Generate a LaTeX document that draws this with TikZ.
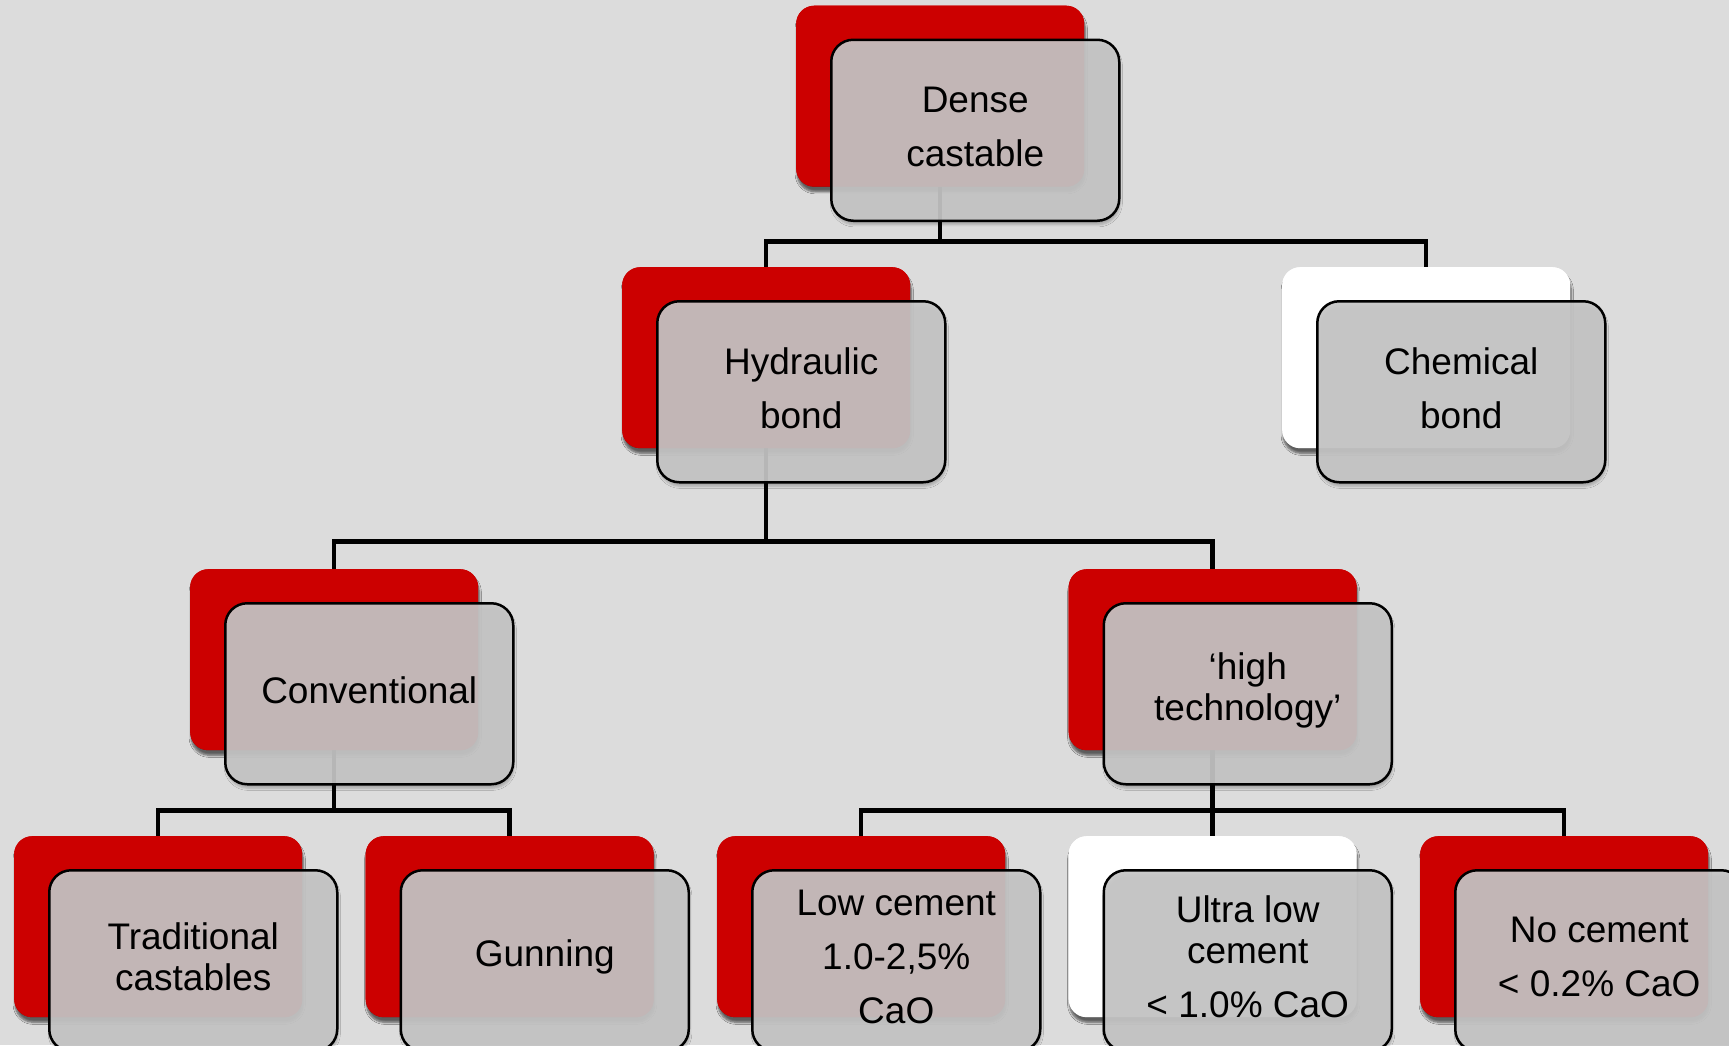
\documentclass[tikz,border=0pt]{standalone}
\usepackage{fontspec}
\setmainfont{Liberation Sans}
\usetikzlibrary{shadows.blur}
\definecolor{bg}{RGB}{220,220,220}
\definecolor{boxred}{RGB}{204,0,0}
\definecolor{glass}{RGB}{198,198,198}
\begin{document}
\begin{tikzpicture}[x=1pt,y=-1pt,
  back/.style={rectangle, rounded corners=18pt, minimum width=288pt, minimum height=181pt,
    anchor=north west, inner sep=0pt,
    blur shadow={shadow xshift=1pt, shadow yshift=-5pt, shadow blur steps=6, shadow opacity=35}},
  redback/.style={back, fill=boxred},
  whiteback/.style={back, fill=white},
  glassbox/.style={rectangle, rounded corners=22pt, minimum width=288pt, minimum height=181pt,
    anchor=north west, inner sep=0pt, draw=black, line width=2.5pt, fill=glass,
    fill opacity=0.92,
    blur shadow={shadow xshift=1pt, shadow yshift=-4pt, shadow blur steps=5, shadow opacity=25}},
  txt/.style={inner sep=0pt, align=center, font=\fontsize{37}{41}\selectfont},
  conn/.style={draw=black, line width=4.5pt, line join=miter}
]
\useasboundingbox (0,0) rectangle (1729,1045);
\clip (0,0) rectangle (1729,1045);
\fill[bg] (0,0) rectangle (1729,1045);

% back boxes
\node[redback]   (denseb) at (796,5.5) {};
\node[redback]   (hydb)   at (622,267) {};
\node[whiteback] (chemb)  at (1282,267) {};
\node[redback]   (convb)  at (190,569) {};
\node[redback]   (highb)  at (1068.5,569) {};
\node[redback]   (tradb)  at (14,836) {};
\node[redback]   (gunb)   at (365.5,836) {};
\node[redback]   (lowb)   at (717,836) {};
\node[whiteback] (ultb)   at (1068.5,836) {};
\node[redback]   (nob)    at (1420,836) {};

% bus levels
\coordinate (bus0) at (0,241.5);
\coordinate (bus1) at (0,541.4);
\coordinate (bus2) at (0,810.5);

% connectors
\draw[conn] (denseb.south) -- (denseb.south |- bus0);
\draw[conn] (hydb.north) -- (hydb.north |- bus0) -- (chemb.north |- bus0) -- (chemb.north);
\draw[conn] (hydb.south) -- (hydb.south |- bus1);
\draw[conn] (convb.north) -- (convb.north |- bus1) -- (highb.north |- bus1) -- (highb.north);
\draw[conn] (convb.south) -- (convb.south |- bus2);
\draw[conn] (tradb.north) -- (tradb.north |- bus2) -- (gunb.north |- bus2) -- (gunb.north);
\draw[conn] (highb.south) -- (highb.south |- bus2);
\draw[conn] (lowb.north) -- (lowb.north |- bus2) -- (nob.north |- bus2) -- (nob.north);
\draw[conn] (ultb.north) -- (ultb.north |- bus2);

% redraw back boxes over connector ends
\node[redback]   (denseb2) at (796,5.5) {};
\node[redback]   (hydb2)   at (622,267) {};
\node[whiteback] (chemb2)  at (1282,267) {};
\node[redback]   (convb2)  at (190,569) {};
\node[redback]   (highb2)  at (1068.5,569) {};
\node[redback]   (tradb2)  at (14,836) {};
\node[redback]   (gunb2)   at (365.5,836) {};
\node[redback]   (lowb2)   at (717,836) {};
\node[whiteback] (ultb2)   at (1068.5,836) {};
\node[redback]   (nob2)    at (1420,836) {};

% front boxes
\node[glassbox] (dense) at (830,38.5) {};
\node[glassbox] (hyd)   at (656,300) {};
\node[glassbox] (chem)  at (1316,300) {};
\node[glassbox] (conv)  at (224,602) {};
\node[glassbox] (high)  at (1102.5,602) {};
\node[glassbox] (trad)  at (48,869) {};
\node[glassbox] (gun)   at (399.5,869) {};
\node[glassbox] (low)   at (751,869) {};
\node[glassbox] (ult)   at (1102.5,869) {};
\node[glassbox] (no)    at (1454,869) {};

% texts
\node[txt] (denset) at ([yshift=3.5pt]dense.center) {Dense\\[13pt]castable};
\node[txt] (hydt)   at ([yshift=3.5pt]hyd.center) {Hydraulic\\[13pt]bond};
\node[txt] (chemt)  at ([yshift=3.5pt]chem.center) {Chemical\\[13pt]bond};
\node[txt] (convt)  at ([yshift=3.5pt]conv.center) {Conventional};
\node[txt] (hight)  at ([yshift=3.5pt]high.center) {‘high\\technology’};
\node[txt] (tradt)  at ([yshift=3.5pt]trad.center) {Traditional\\castables};
\node[txt] (gunt)   at ([yshift=3.5pt]gun.center) {Gunning};
\node[txt] (lowt)   at ([yshift=3.5pt]low.center) {Low cement\\[13pt]1.0-2,5\%\\[13pt]CaO};
\node[txt] (ultt)   at ([yshift=3.5pt]ult.center) {Ultra low\\cement\\[13pt]< 1.0\% CaO};
\node[txt] (not)    at ([yshift=3.5pt]no.center) {No cement\\[13pt]< 0.2\% CaO};
\end{tikzpicture}
\end{document}
